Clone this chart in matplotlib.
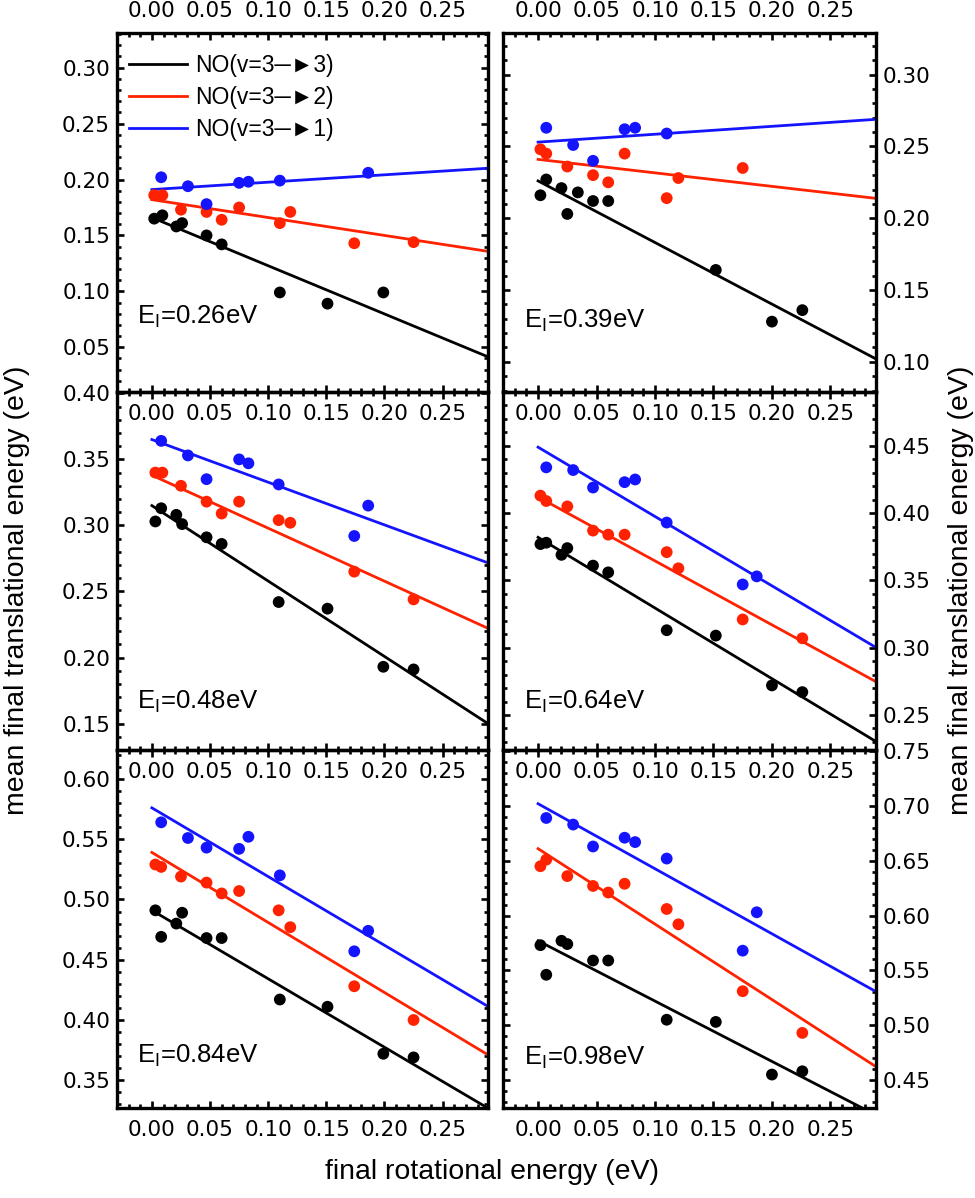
import numpy as np
import matplotlib
matplotlib.use("Agg")
import matplotlib.pyplot as plt
from matplotlib.ticker import MultipleLocator, FuncFormatter

plt.rcParams['font.family'] = ['DejaVu Sans']
plt.rcParams['mathtext.fontset'] = 'custom'
plt.rcParams['mathtext.rm'] = 'Liberation Sans'
plt.rcParams['mathtext.default'] = 'regular'

# ---------------- data ----------------
incident_energies = ["0.26", "0.39", "0.48", "0.64", "0.84", "0.98"]
series_labels = ["NO(v=3\u2500\u25ba3)", "NO(v=3\u2500\u25ba2)", "NO(v=3\u2500\u25ba1)"]
series_colors = ["#000000", "#ff2200", "#1414ff"]

# E_I = 0.26 eV
e026_x33 = [0.002, 0.009, 0.021, 0.026, 0.047, 0.060, 0.110, 0.151, 0.199]
e026_y33 = [0.165, 0.168, 0.158, 0.161, 0.150, 0.142, 0.099, 0.089, 0.099]
e026_x32 = [0.002, 0.009, 0.025, 0.047, 0.060, 0.075, 0.110, 0.119, 0.174, 0.225]
e026_y32 = [0.186, 0.186, 0.173, 0.171, 0.164, 0.175, 0.161, 0.171, 0.143, 0.144]
e026_x31 = [0.008, 0.031, 0.047, 0.075, 0.083, 0.110, 0.186]
e026_y31 = [0.202, 0.194, 0.178, 0.197, 0.198, 0.199, 0.206]
e026_fit_b = [0.166, 0.182, 0.191]
e026_fit_m = [-0.431, -0.160, 0.066]

# E_I = 0.39 eV
e039_x33 = [0.002, 0.007, 0.020, 0.025, 0.034, 0.047, 0.060, 0.152, 0.200, 0.226]
e039_y33 = [0.216, 0.227, 0.221, 0.203, 0.218, 0.212, 0.212, 0.164, 0.128, 0.136]
e039_x32 = [0.002, 0.007, 0.025, 0.047, 0.060, 0.074, 0.110, 0.120, 0.175]
e039_y32 = [0.248, 0.245, 0.236, 0.230, 0.225, 0.245, 0.214, 0.228, 0.235]
e039_x31 = [0.007, 0.030, 0.047, 0.074, 0.083, 0.110]
e039_y31 = [0.263, 0.251, 0.240, 0.262, 0.263, 0.259]
e039_fit_b = [0.226, 0.241, 0.253]
e039_fit_m = [-0.429, -0.094, 0.055]

# E_I = 0.48 eV
e048_x33 = [0.003, 0.008, 0.021, 0.026, 0.047, 0.060, 0.109, 0.151, 0.199, 0.225]
e048_y33 = [0.303, 0.313, 0.308, 0.301, 0.291, 0.286, 0.242, 0.237, 0.193, 0.191]
e048_x32 = [0.003, 0.009, 0.025, 0.047, 0.060, 0.075, 0.109, 0.119, 0.174, 0.225]
e048_y32 = [0.340, 0.340, 0.330, 0.318, 0.309, 0.318, 0.304, 0.302, 0.265, 0.244]
e048_x31 = [0.008, 0.031, 0.047, 0.075, 0.083, 0.109, 0.174, 0.186]
e048_y31 = [0.364, 0.353, 0.335, 0.350, 0.347, 0.331, 0.292, 0.315]
e048_fit_b = [0.315, 0.338, 0.365]
e048_fit_m = [-0.571, -0.401, -0.323]

# E_I = 0.64 eV
e064_x33 = [0.002, 0.007, 0.020, 0.025, 0.047, 0.060, 0.110, 0.152, 0.200, 0.226]
e064_y33 = [0.377, 0.378, 0.369, 0.374, 0.361, 0.356, 0.313, 0.309, 0.272, 0.267]
e064_x32 = [0.002, 0.007, 0.025, 0.047, 0.060, 0.074, 0.110, 0.120, 0.175, 0.226]
e064_y32 = [0.413, 0.409, 0.405, 0.387, 0.384, 0.384, 0.371, 0.359, 0.321, 0.307]
e064_x31 = [0.007, 0.030, 0.047, 0.074, 0.083, 0.110, 0.175, 0.187]
e064_y31 = [0.434, 0.432, 0.419, 0.423, 0.425, 0.393, 0.347, 0.353]
e064_fit_b = [0.382, 0.412, 0.449]
e064_fit_m = [-0.525, -0.475, -0.515]

# E_I = 0.84 eV
e084_x33 = [0.003, 0.008, 0.021, 0.026, 0.047, 0.060, 0.110, 0.151, 0.199, 0.225]
e084_y33 = [0.491, 0.469, 0.480, 0.489, 0.468, 0.468, 0.417, 0.411, 0.372, 0.369]
e084_x32 = [0.003, 0.008, 0.025, 0.047, 0.060, 0.075, 0.109, 0.119, 0.174, 0.225]
e084_y32 = [0.529, 0.527, 0.519, 0.514, 0.505, 0.507, 0.491, 0.477, 0.428, 0.400]
e084_x31 = [0.008, 0.031, 0.047, 0.075, 0.083, 0.110, 0.174, 0.186]
e084_y31 = [0.564, 0.551, 0.543, 0.542, 0.552, 0.520, 0.457, 0.474]
e084_fit_b = [0.491, 0.539, 0.576]
e084_fit_m = [-0.568, -0.581, -0.570]

# E_I = 0.98 eV
e098_x33 = [0.002, 0.007, 0.020, 0.025, 0.047, 0.060, 0.110, 0.152, 0.200, 0.226]
e098_y33 = [0.573, 0.546, 0.577, 0.574, 0.559, 0.559, 0.505, 0.503, 0.455, 0.458]
e098_x32 = [0.002, 0.007, 0.025, 0.047, 0.060, 0.074, 0.110, 0.120, 0.175, 0.226]
e098_y32 = [0.645, 0.651, 0.636, 0.627, 0.621, 0.629, 0.606, 0.592, 0.531, 0.493]
e098_x31 = [0.007, 0.030, 0.047, 0.074, 0.083, 0.110, 0.175, 0.187]
e098_y31 = [0.689, 0.683, 0.663, 0.671, 0.667, 0.652, 0.568, 0.603]
e098_fit_b = [0.577, 0.661, 0.702]
e098_fit_m = [-0.550, -0.688, -0.593]

panel_ylims = [(0.010, 0.331), (0.079, 0.329), (0.130, 0.401),
               (0.224, 0.490), (0.327, 0.624), (0.4245, 0.751)]
x_range = (-0.030, 0.289)

panels = [
    ([(e026_x33, e026_y33), (e026_x32, e026_y32), (e026_x31, e026_y31)], e026_fit_b, e026_fit_m),
    ([(e039_x33, e039_y33), (e039_x32, e039_y32), (e039_x31, e039_y31)], e039_fit_b, e039_fit_m),
    ([(e048_x33, e048_y33), (e048_x32, e048_y32), (e048_x31, e048_y31)], e048_fit_b, e048_fit_m),
    ([(e064_x33, e064_y33), (e064_x32, e064_y32), (e064_x31, e064_y31)], e064_fit_b, e064_fit_m),
    ([(e084_x33, e084_y33), (e084_x32, e084_y32), (e084_x31, e084_y31)], e084_fit_b, e084_fit_m),
    ([(e098_x33, e098_y33), (e098_x32, e098_y32), (e098_x31, e098_y31)], e098_fit_b, e098_fit_m),
]

# ---------------- layout ----------------
W, H = 975, 1198
fig = plt.figure(figsize=(W / 100, H / 100), dpi=100)
fig.patch.set_facecolor('white')

col_x = [117, 503]
col_w = [371, 373]
row_top = [33, 392, 750]
row_h = [359, 358, 358]
label_y_frac = [0.19, 0.18, 0.115, 0.115, 0.125, 0.12]
text_family = ['Liberation Sans', 'DejaVu Sans']

fmt = FuncFormatter(lambda v, p: "%.2f" % (0.0 if abs(v) < 1e-9 else v))

line_x = np.array([0.0, 0.30])

for i, (series, fit_b, fit_m) in enumerate(panels):
    r, c = divmod(i, 2)
    left = col_x[c] / W
    bottom = 1 - (row_top[r] + row_h[r]) / H
    ax = fig.add_axes([left, bottom, col_w[c] / W, row_h[r] / H])
    ax.set_facecolor('none')
    ax.set_xlim(*x_range)
    ax.set_ylim(*panel_ylims[i])

    handles = []
    for k, ((xs, ys), col) in enumerate(zip(series, series_colors)):
        ln, = ax.plot(line_x, fit_b[k] + fit_m[k] * line_x, color=col, lw=2.0,
                      zorder=2, label=series_labels[k])
        handles.append(ln)
        ax.scatter(xs, ys, s=72, color=col, edgecolors='none', zorder=3)

    ax.xaxis.set_major_locator(MultipleLocator(0.05))
    ax.xaxis.set_minor_locator(MultipleLocator(0.01))
    ax.yaxis.set_major_locator(MultipleLocator(0.05))
    ax.yaxis.set_minor_locator(MultipleLocator(0.01))
    ax.xaxis.set_major_formatter(fmt)
    ax.yaxis.set_major_formatter(fmt)

    ax.tick_params(which='both', direction='in', top=True, bottom=True,
                   left=True, right=True, width=1.9, color='black')
    ax.tick_params(which='major', length=5)
    ax.tick_params(which='minor', length=2.7)
    ax.tick_params(axis='x', labelsize=15.5, pad=8.5,
                   labeltop=(r == 0), labelbottom=True)
    ax.tick_params(axis='y', labelsize=15.5, pad=5,
                   labelleft=(c == 0), labelright=(c == 1))
    for sp in ax.spines.values():
        sp.set_linewidth(2.4)

    ax.text(0.055, label_y_frac[i], "E$_{\\mathregular{I}}$=%seV" % incident_energies[i],
            transform=ax.transAxes, fontsize=18.5, ha='left', va='baseline',
            family=text_family)

    if i == 0:
        ax.legend(handles=handles, loc='upper left', bbox_to_anchor=(0.02, 0.955),
                  frameon=False, handlelength=2.55, handletextpad=0.35,
                  labelspacing=0.4, borderaxespad=0, borderpad=0.2,
                  prop={'family': text_family, 'size': 16.5})

fig.text(17 / W, 1 - 590 / H, "mean final translational energy (eV)", rotation=90,
         ha='center', va='center', fontsize=20.5, family=text_family)
fig.text(961 / W, 1 - 590 / H, "mean final translational energy (eV)", rotation=90,
         ha='center', va='center', fontsize=20.5, family=text_family)
fig.text(492 / W, 1 - 1172 / H, "final rotational energy (eV)",
         ha='center', va='center', fontsize=20.5, family=text_family)

fig.savefig("out.png", dpi=100, facecolor='white')
